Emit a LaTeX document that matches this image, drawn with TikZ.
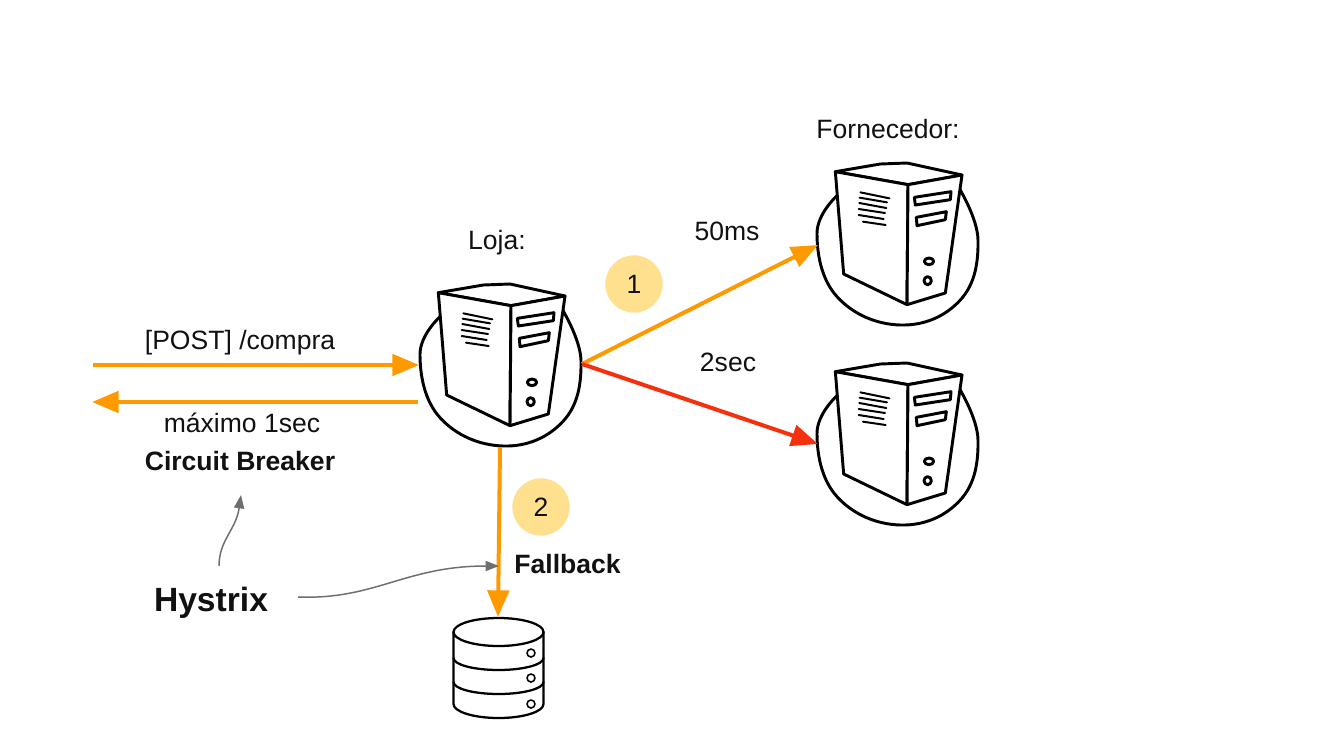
\documentclass[tikz,border=0pt]{standalone}
\usepackage{fontspec}
\setmainfont{Liberation Sans}
\usetikzlibrary{arrows.meta}
\definecolor{flow}{HTML}{FF9900}
\definecolor{fail}{HTML}{F5300F}
\definecolor{badge}{HTML}{FFE08E}
\definecolor{note}{HTML}{6E6E6E}
\definecolor{inkc}{HTML}{111111}
\tikzset{
  x=0.75pt,y=-0.75pt,
  flowline/.style={draw=flow,line width=3pt,-{Triangle[length=20pt,width=16pt]}},
  failline/.style={draw=fail,line width=3pt,-{Triangle[length=20pt,width=16pt]}},
  noteline/.style={draw=note,line width=1.1pt,-{Triangle[length=10pt,width=7.5pt]}},
  lbl/.style={text=inkc,font=\fontsize{19.9pt}{23pt}\selectfont,inner sep=0pt},
  lblb/.style={text=inkc,font=\fontsize{19.9pt}{23pt}\selectfont\bfseries,inner sep=0pt},
  numbadge/.style={circle,fill=badge,minimum size=43pt,inner sep=0pt,text=inkc,font=\fontsize{19.9pt}{23pt}\selectfont},
  sk/.style={draw=black,line width=2.2pt,line join=round,line cap=round},
  skw/.style={sk,fill=white},
  skt/.style={draw=black,line width=1.5pt,line cap=round},
  pics/serverpic/.style={code={
    \begin{scope}[x=0.25pt,y=-0.25pt]
      \node[circle,minimum size=120pt,inner sep=0pt] (-ring) at (270,290) {};
      \draw[sk] plot[smooth,tension=0.7] coordinates {(455,115) (513,273) (460,453) (280,528) (90,443) (30,253) (90,140)};
      \draw[skw] (85,68) -- (220,45) -- (300,42) -- (465,78) -- (303,107) -- cycle;
      \draw[skw] (85,68) -- (303,107) -- (300,467) -- (110,375) -- cycle;
      \draw[skw] (303,107) -- (465,78) -- (415,432) -- (300,467) -- cycle;
      \draw[sk] (322,145) -- (432,128) -- (430,152) -- (325,168) -- cycle;
      \draw[sk] (328,205) -- (418,188) -- (415,212) -- (330,230) -- cycle;
      \draw[sk] (366,337) ellipse [x radius=14,y radius=10];
      \draw[sk] (362,395) ellipse [x radius=11,y radius=12];
      \draw[skt] (160,130) -- (247,148);
      \draw[skt] (158,146) -- (240,160);
      \draw[skt] (157,162) -- (238,177);
      \draw[skt] (155,180) -- (234,192);
      \draw[skt] (155,198) -- (230,210);
      \draw[skt] (168,218) -- (236,228);
    \end{scope}
  }}
}
\begin{document}
\begin{tikzpicture}
\useasboundingbox[fill=white] (0,0) rectangle (1331,729);
% servers
\pic (loja) at (410,270) {serverpic};
\pic (fa) at (807,149) {serverpic};
\pic (fb) at (807,349) {serverpic};
% database
\node[circle,minimum size=60pt,inner sep=0pt] (db) at (498.5,665) {};
\draw[skw,line width=1.7pt] (453.5,632) -- (453.5,704) arc[start angle=180,end angle=0,x radius=45,y radius=14] -- (543.5,632);
\draw[skw,line width=1.7pt] (498.5,632) ellipse [x radius=45,y radius=14];
\draw[sk,line width=1.7pt] (453.5,658) arc[start angle=180,end angle=0,x radius=45,y radius=12];
\draw[sk,line width=1.7pt] (453.5,682) arc[start angle=180,end angle=0,x radius=45,y radius=12];
\draw[sk,line width=1.2pt] (531,653) circle [radius=4];
\draw[sk,line width=1.2pt] (531,678) circle [radius=4];
\draw[sk,line width=1.2pt] (531,704) circle [radius=4];
% connector ends
\coordinate (cin) at (93,365);
\coordinate (lin) at (419,365);
\coordinate (lout) at (418,402);
\coordinate (cout) at (92,402);
\coordinate (lr) at (582,364);
\coordinate (ld) at (500,447);
\coordinate (fat) at (818,245);
\coordinate (fbt) at (818,444);
\coordinate (dbt) at (498,617);
% labels
\node[lbl] (tloja) at (497,243) {Loja:};
\node[lbl] (tforn) at (888,129) {Fornecedor:};
\node[lbl] (t50) at (727,231) {50ms};
\node[lbl] (t2) at (728,362) {2sec};
\node[lbl] (tpost) at (240,343) {[POST] /compra};
\node[lbl] (tmax) at (242,423) {máximo 1sec};
\node[lblb] (tcb) at (240,461) {Circuit Breaker};
\node[lblb] (tfb) at (567.5,564) {Fallback};
\node[text=inkc,font=\fontsize{25.2pt}{30pt}\selectfont\bfseries,inner sep=0pt] (hyst) at (211,603) {Hystrix};
\node[numbadge] (n1) at (634,284) {1};
\node[numbadge] (n2) at (541,507) {2};
% connectors
\draw[flowline] (cin) -- (lin);
\draw[flowline] (lout) -- (cout);
\draw[flowline] (lr) -- (fat);
\draw[failline] (lr) -- (fbt);
\draw[flowline] (ld) -- (dbt);
\coordinate (h1) at (298,597);
\coordinate (h1e) at (499,566);
\coordinate (h2) at (219,566);
\coordinate (h2e) at (241,495);
\draw[noteline] (h1) .. controls (375,600) and (405,566) .. (h1e);
\draw[noteline] (h2) .. controls (219,540) and (236,530) .. (h2e);
\end{tikzpicture}
\end{document}
